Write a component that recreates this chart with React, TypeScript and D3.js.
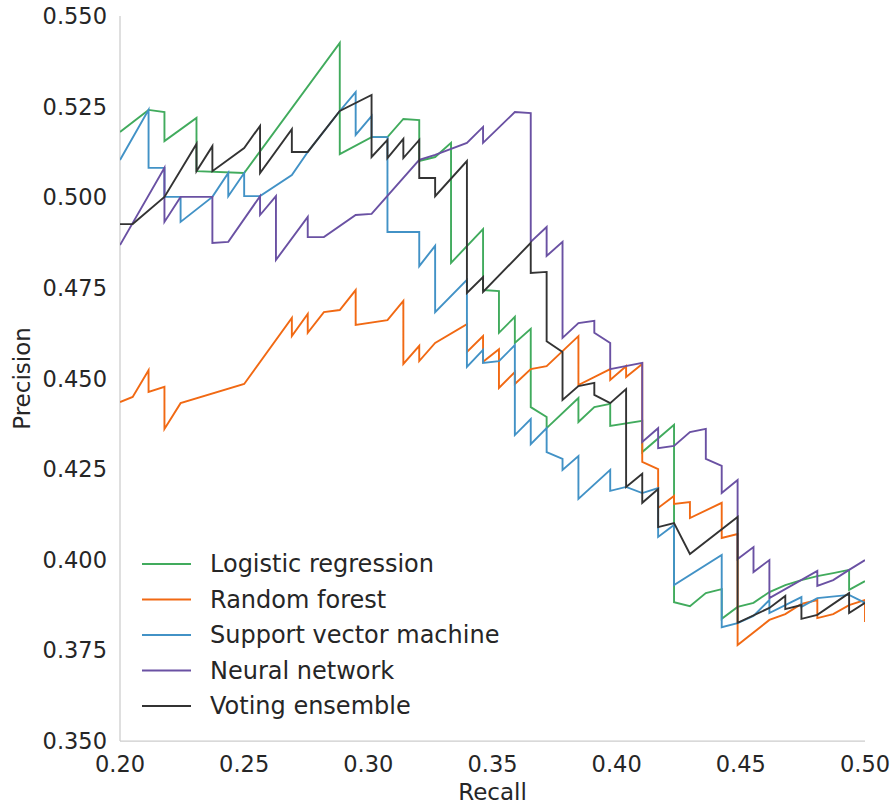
import React from "react";
import * as d3 from "d3";

// Precision-recall curves for five classifiers
const recallLR = [0.2000,0.2115,0.2179,0.2179,0.2308,0.2308,0.2500,0.2885,0.2885,0.3013,0.3077,0.3141,0.3205,0.3205,0.3269,0.3333,0.3333,0.3462,0.3462,0.3526,0.3526,0.3590,0.3590,0.3654,0.3654,0.3718,0.3718,0.3846,0.3846,0.3910,0.3974,0.3974,0.4103,0.4103,0.4231,0.4231,0.4295,0.4359,0.4423,0.4423,0.4487,0.4551,0.4615,0.4679,0.4744,0.4808,0.4872,0.4936,0.4936,0.5000];
const precisionLR = [0.5180,0.5241,0.5235,0.5155,0.5219,0.5072,0.5067,0.5426,0.5119,0.5166,0.5166,0.5216,0.5213,0.5100,0.5111,0.5150,0.4819,0.4912,0.4744,0.4741,0.4626,0.4670,0.4598,0.4637,0.4421,0.4394,0.4363,0.4446,0.4380,0.4421,0.4430,0.4369,0.4383,0.4297,0.4372,0.3883,0.3872,0.3908,0.3919,0.3837,0.3870,0.3881,0.3911,0.3930,0.3944,0.3955,0.3963,0.3972,0.3917,0.3941];

const recallRF = [0.2000,0.2051,0.2115,0.2115,0.2179,0.2179,0.2244,0.2500,0.2692,0.2692,0.2756,0.2756,0.2821,0.2885,0.2949,0.2949,0.3077,0.3141,0.3141,0.3205,0.3205,0.3269,0.3397,0.3397,0.3462,0.3462,0.3526,0.3526,0.3590,0.3590,0.3654,0.3718,0.3846,0.3846,0.3974,0.3974,0.4038,0.4038,0.4103,0.4103,0.4167,0.4167,0.4231,0.4231,0.4295,0.4295,0.4423,0.4423,0.4487,0.4487,0.4615,0.4679,0.4744,0.4808,0.4808,0.4872,0.4936,0.5000,0.5000];
const precisionRF = [0.4435,0.4449,0.4523,0.4463,0.4477,0.4361,0.4432,0.4485,0.4667,0.4617,0.4678,0.4626,0.4683,0.4689,0.4744,0.4648,0.4661,0.4714,0.4540,0.4590,0.4548,0.4598,0.4650,0.4573,0.4617,0.4546,0.4581,0.4474,0.4518,0.4485,0.4526,0.4534,0.4617,0.4482,0.4526,0.4496,0.4534,0.4504,0.4540,0.4270,0.4250,0.4143,0.4176,0.4154,0.4159,0.4115,0.4157,0.4060,0.4071,0.3765,0.3834,0.3850,0.3878,0.3889,0.3839,0.3850,0.3875,0.3889,0.3828];

const recallSVM = [0.2000,0.2115,0.2115,0.2179,0.2179,0.2244,0.2244,0.2372,0.2436,0.2436,0.2500,0.2500,0.2564,0.2692,0.2756,0.2885,0.2949,0.2949,0.3013,0.3013,0.3077,0.3077,0.3205,0.3205,0.3269,0.3269,0.3397,0.3397,0.3462,0.3462,0.3526,0.3590,0.3590,0.3654,0.3654,0.3718,0.3718,0.3782,0.3782,0.3846,0.3846,0.3974,0.3974,0.4038,0.4103,0.4167,0.4167,0.4231,0.4231,0.4423,0.4423,0.4487,0.4551,0.4615,0.4615,0.4744,0.4744,0.4808,0.4936,0.5000];
const precisionSVM = [0.5103,0.5241,0.5081,0.5081,0.5001,0.5001,0.4932,0.5001,0.5067,0.5003,0.5067,0.5003,0.5003,0.5061,0.5125,0.5238,0.5290,0.5172,0.5224,0.5166,0.5166,0.4904,0.4904,0.4810,0.4866,0.4683,0.4772,0.4532,0.4579,0.4543,0.4548,0.4592,0.4344,0.4388,0.4319,0.4363,0.4297,0.4278,0.4248,0.4286,0.4168,0.4248,0.4190,0.4201,0.4184,0.4198,0.4063,0.4096,0.3930,0.4013,0.3814,0.3825,0.3845,0.3889,0.3853,0.3897,0.3870,0.3894,0.3903,0.3881];

const recallNN = [0.2000,0.2179,0.2179,0.2244,0.2372,0.2372,0.2436,0.2564,0.2564,0.2628,0.2628,0.2756,0.2756,0.2821,0.2949,0.3013,0.3205,0.3269,0.3397,0.3462,0.3462,0.3590,0.3654,0.3654,0.3718,0.3718,0.3782,0.3782,0.3846,0.3910,0.3910,0.3974,0.3974,0.4103,0.4103,0.4167,0.4167,0.4231,0.4295,0.4359,0.4359,0.4423,0.4423,0.4487,0.4487,0.4551,0.4551,0.4615,0.4615,0.4808,0.4808,0.4872,0.4936,0.5000];
const precisionNN = [0.4868,0.5081,0.4932,0.5001,0.5001,0.4874,0.4877,0.5003,0.4951,0.5003,0.4827,0.4946,0.4890,0.4890,0.4951,0.4954,0.5103,0.5117,0.5150,0.5194,0.5150,0.5235,0.5232,0.4877,0.4918,0.4838,0.4877,0.4612,0.4653,0.4659,0.4626,0.4598,0.4526,0.4543,0.4325,0.4363,0.4308,0.4314,0.4352,0.4361,0.4278,0.4259,0.4184,0.4220,0.4002,0.4035,0.3966,0.3999,0.3894,0.3969,0.3928,0.3944,0.3972,0.3999];

const recallVE = [0.2000,0.2051,0.2179,0.2308,0.2308,0.2372,0.2372,0.2500,0.2564,0.2564,0.2692,0.2692,0.2756,0.2885,0.3013,0.3013,0.3077,0.3077,0.3141,0.3141,0.3205,0.3205,0.3269,0.3269,0.3397,0.3397,0.3462,0.3462,0.3654,0.3654,0.3718,0.3718,0.3782,0.3782,0.3846,0.3910,0.3910,0.3974,0.4038,0.4038,0.4103,0.4103,0.4167,0.4167,0.4231,0.4295,0.4487,0.4487,0.4615,0.4679,0.4679,0.4744,0.4744,0.4808,0.4936,0.4936,0.5000];
const precisionVE = [0.4926,0.4926,0.5001,0.5147,0.5072,0.5141,0.5072,0.5136,0.5197,0.5067,0.5188,0.5125,0.5125,0.5238,0.5282,0.5111,0.5158,0.5108,0.5161,0.5108,0.5158,0.5053,0.5053,0.5003,0.5100,0.4736,0.4780,0.4739,0.4874,0.4791,0.4794,0.4603,0.4573,0.4441,0.4479,0.4488,0.4455,0.4432,0.4471,0.4201,0.4237,0.4157,0.4195,0.4090,0.4101,0.4016,0.4118,0.3826,0.3867,0.3900,0.3864,0.3875,0.3837,0.3848,0.3908,0.3853,0.3881];

const modelNames = ["Logistic regression", "Random forest", "Support vector machine", "Neural network", "Voting ensemble"];
const modelColors = ["#41ab5d", "#f16913", "#4292c6", "#6a51a3", "#333333"];
const recallSeries = [recallLR, recallRF, recallSVM, recallNN, recallVE];
const precisionSeries = [precisionLR, precisionRF, precisionSVM, precisionNN, precisionVE];

const xTickValues = [0.2, 0.25, 0.3, 0.35, 0.4, 0.45, 0.5];
const yTickValues = [0.35, 0.375, 0.4, 0.425, 0.45, 0.475, 0.5, 0.525, 0.55];

const WIDTH = 893;
const HEIGHT = 807;
const FONT = "'DejaVu Sans', sans-serif";
const TEXT = "#262626";

export default function App() {
  const x = d3.scaleLinear().domain([0.2, 0.5]).range([120, 865]);
  const y = d3.scaleLinear().domain([0.35, 0.55]).range([741, 16]);
  const [x0, x1] = x.range();
  const [y0, y1] = y.range();

  const line = d3
    .line<[number, number]>()
    .x((d) => x(d[0]))
    .y((d) => y(d[1]));

  const paths = recallSeries.map((rs, i) =>
    line(rs.map((r, j) => [r, precisionSeries[i][j]] as [number, number]))
  );

  const legendX = 142;
  const legendY = 564;
  const legendStep = 35.5;

  return (
    <svg
      width={WIDTH}
      height={HEIGHT}
      style={{ position: "absolute", left: 0, top: 0, background: "#fff" }}
      fontFamily={FONT}
    >
      <defs>
        <clipPath id="plot-area">
          <rect x={x0} y={y1} width={x1 - x0} height={y0 - y1} />
        </clipPath>
      </defs>

      {/* spines */}
      <line x1={x0} x2={x0} y1={y1} y2={y0} stroke="#cccccc" strokeWidth={1.25} />
      <line x1={x0} x2={x1} y1={y0} y2={y0} stroke="#cccccc" strokeWidth={1.25} />

      {/* tick labels */}
      {yTickValues.map((t) => (
        <text
          key={`y${t}`}
          x={107}
          y={y(t)}
          textAnchor="end"
          dominantBaseline="central"
          fontSize={22.5}
          fill={TEXT}
        >
          {d3.format(".3f")(t)}
        </text>
      ))}
      {xTickValues.map((t) => (
        <text key={`x${t}`} x={x(t)} y={772} textAnchor="middle" fontSize={22.5} fill={TEXT}>
          {d3.format(".2f")(t)}
        </text>
      ))}

      {/* axis titles */}
      <text x={(x0 + x1) / 2} y={800} textAnchor="middle" fontSize={23} fill={TEXT}>
        Recall
      </text>
      <text
        transform={`translate(30, ${(y0 + y1) / 2}) rotate(-90)`}
        textAnchor="middle"
        fontSize={23}
        fill={TEXT}
      >
        Precision
      </text>

      {/* curves */}
      <g clipPath="url(#plot-area)">
        {paths.map((d, i) => (
          <path
            key={modelNames[i]}
            d={d ?? ""}
            fill="none"
            stroke={modelColors[i]}
            strokeWidth={1.9}
            strokeLinejoin="miter"
          />
        ))}
      </g>

      {/* legend */}
      {modelNames.map((name, i) => (
        <g key={name} transform={`translate(${legendX}, ${legendY + i * legendStep})`}>
          <line x1={0} x2={49} y1={0} y2={0} stroke={modelColors[i]} strokeWidth={2} />
          <text x={68} y={0} dominantBaseline="central" fontSize={24} fill={TEXT}>
            {name}
          </text>
        </g>
      ))}
    </svg>
  );
}
